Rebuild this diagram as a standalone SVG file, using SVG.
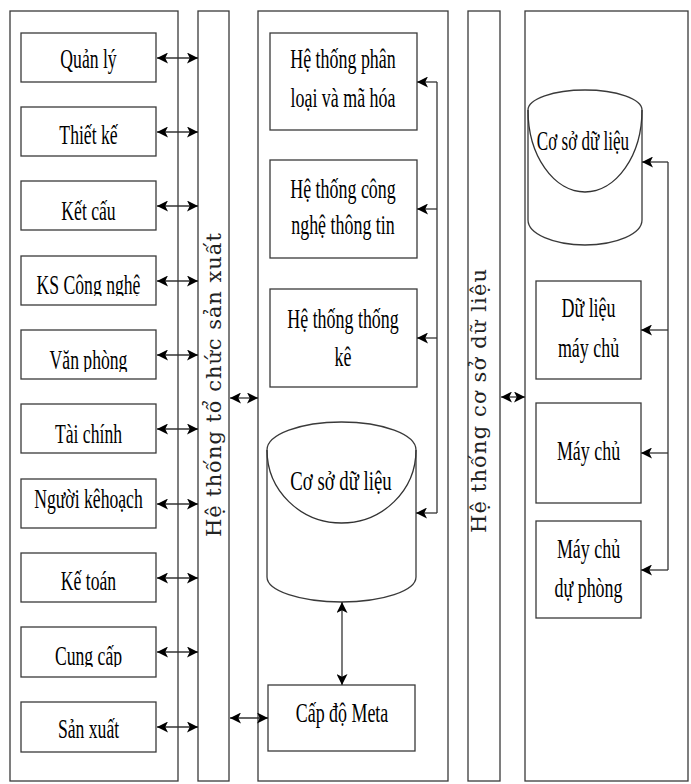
<svg xmlns="http://www.w3.org/2000/svg" width="691" height="784" viewBox="0 0 691 784">
<style>
.bx{fill:#fff;stroke:#3a3a3a;stroke-width:1.3}
.pn{fill:none;stroke:#3a3a3a;stroke-width:1.3}
.cn{fill:none;stroke:#333;stroke-width:1.3}
.t{font-family:"Liberation Serif","Times New Roman",serif;font-size:28px;fill:#000;text-anchor:middle}
.v{font-family:"DejaVu Serif",serif;font-size:21px;fill:#222}
</style>
<defs>
<marker id="ah" viewBox="0 0 10 10" refX="10" refY="5" markerWidth="11" markerHeight="11" markerUnits="userSpaceOnUse" orient="auto-start-reverse">
<path d="M0,0 L10,5 L0,10 L2.5,5 z" fill="#000"/>
</marker>
<clipPath id="c1"><rect x="21" y="256" width="135" height="40"/></clipPath>
<clipPath id="c2"><rect x="21" y="330" width="135" height="42"/></clipPath>
<clipPath id="c3"><rect x="21" y="627" width="135" height="40"/></clipPath>
</defs>
<rect width="691" height="784" fill="#fff"/>

<g id="panel-left"><rect class="pn" x="10" y="11" width="168" height="770"/></g>
<g id="bar-sx"><rect class="pn" x="198" y="11" width="31" height="770"/>
<text class="v" transform="translate(221,537) rotate(-90)" x="0" y="0" textLength="304" lengthAdjust="spacing">Hệ thống tổ chức sản xuất</text></g>
<g id="panel-mid"><rect class="pn" x="258" y="11" width="190" height="770"/></g>
<g id="bar-csdl"><rect class="pn" x="468" y="11" width="32" height="770"/>
<text class="v" transform="translate(486,533) rotate(-90)" x="0" y="0" textLength="264" lengthAdjust="spacing">Hệ thống cơ sở dữ liệu</text></g>
<g id="panel-right"><rect class="pn" x="525" y="11" width="163" height="770"/></g>

<g id="n-quanly"><rect class="bx" x="21" y="33" width="135" height="49"/><text class="t" transform="translate(88.5,68) scale(0.63,1)">Quản lý</text></g>
<g id="n-thietke"><rect class="bx" x="21" y="107" width="135" height="49"/><text class="t" transform="translate(88.5,144) scale(0.63,1)">Thiết kế</text></g>
<g id="n-ketcau"><rect class="bx" x="21" y="181" width="135" height="49"/><text class="t" transform="translate(88.5,220) scale(0.63,1)">Kết cấu</text></g>
<g id="n-kscn"><rect class="bx" x="21" y="256" width="135" height="49"/><g clip-path="url(#c1)"><text class="t" transform="translate(88.5,294) scale(0.63,1)">KS Công nghệ</text></g></g>
<g id="n-vanphong"><rect class="bx" x="21" y="330" width="135" height="49"/><g clip-path="url(#c2)"><text class="t" transform="translate(88.5,369) scale(0.63,1)">Văn phòng</text></g></g>
<g id="n-taichinh"><rect class="bx" x="21" y="404" width="135" height="49"/><text class="t" transform="translate(88.5,443) scale(0.63,1)">Tài chính</text></g>
<g id="n-nguoikh"><rect class="bx" x="21" y="479" width="135" height="49"/><text class="t" transform="translate(88.5,508) scale(0.63,1)">Người kêhoạch</text></g>
<g id="n-ketoan"><rect class="bx" x="21" y="553" width="135" height="49"/><text class="t" transform="translate(88.5,590) scale(0.63,1)">Kế toán</text></g>
<g id="n-cungcap"><rect class="bx" x="21" y="627" width="135" height="50"/><g clip-path="url(#c3)"><text class="t" transform="translate(88.5,665) scale(0.63,1)">Cung cấp</text></g></g>
<g id="n-sanxuat"><rect class="bx" x="21" y="702" width="135" height="50"/><text class="t" transform="translate(88.5,738) scale(0.63,1)">Sản xuất</text></g>

<g id="n-phanloai"><rect class="bx" x="270" y="33" width="147" height="97"/>
<text class="t" transform="translate(343,68) scale(0.64,1)">Hệ thống phân</text>
<text class="t" transform="translate(343,107) scale(0.64,1)">loại và mã hóa</text></g>
<g id="n-cntt"><rect class="bx" x="270" y="160" width="147" height="98"/>
<text class="t" transform="translate(343,198) scale(0.64,1)">Hệ thống công</text>
<text class="t" transform="translate(343,234) scale(0.64,1)">nghệ thông tin</text></g>
<g id="n-thongke"><rect class="bx" x="270" y="289" width="147" height="98"/>
<text class="t" transform="translate(343,328) scale(0.64,1)">Hệ thống thống</text>
<text class="t" transform="translate(343,366) scale(0.64,1)">kê</text></g>
<g id="n-csdl-mid">
<path class="bx" d="M267,450 A74.5,28 0 0 1 416,450 L416,577 A74.5,25 0 0 1 267,577 Z"/>
<path class="cn" d="M267,450 A74.5,73 0 0 0 416,450"/>
<text class="t" transform="translate(341,490) scale(0.67,1)">Cơ sở dữ liệu</text></g>
<g id="n-meta"><rect class="bx" x="268" y="685" width="147" height="66"/>
<text class="t" transform="translate(342,722) scale(0.64,1)">Cấp độ Meta</text></g>

<g id="n-csdl-right">
<path class="bx" d="M528,110 A57,20 0 0 1 642,110 L642,220 A57,25 0 0 1 528,220 Z"/>
<path class="cn" d="M528,110 A57,82 0 0 0 642,110"/>
<text class="t" transform="translate(583,150) scale(0.61,1)">Cơ sở dữ liệu</text></g>
<g id="n-dlmc"><rect class="bx" x="536" y="281" width="105" height="98"/>
<text class="t" transform="translate(588.5,317) scale(0.64,1)">Dữ liệu</text>
<text class="t" transform="translate(588.5,357) scale(0.64,1)">máy chủ</text></g>
<g id="n-maychu"><rect class="bx" x="536" y="403" width="105" height="100"/>
<text class="t" transform="translate(588.5,460) scale(0.64,1)">Máy chủ</text></g>
<g id="n-mcdp"><rect class="bx" x="536" y="521" width="105" height="97"/>
<text class="t" transform="translate(588.5,558) scale(0.64,1)">Máy chủ</text>
<text class="t" transform="translate(588.5,597) scale(0.64,1)">dự phòng</text></g>

<g id="connectors">
<line class="cn" x1="157" y1="58" x2="198" y2="58" marker-start="url(#ah)" marker-end="url(#ah)"/>
<line class="cn" x1="157" y1="132" x2="198" y2="132" marker-start="url(#ah)" marker-end="url(#ah)"/>
<line class="cn" x1="157" y1="206" x2="198" y2="206" marker-start="url(#ah)" marker-end="url(#ah)"/>
<line class="cn" x1="157" y1="281" x2="198" y2="281" marker-start="url(#ah)" marker-end="url(#ah)"/>
<line class="cn" x1="157" y1="355" x2="198" y2="355" marker-start="url(#ah)" marker-end="url(#ah)"/>
<line class="cn" x1="157" y1="429" x2="198" y2="429" marker-start="url(#ah)" marker-end="url(#ah)"/>
<line class="cn" x1="157" y1="504" x2="198" y2="504" marker-start="url(#ah)" marker-end="url(#ah)"/>
<line class="cn" x1="157" y1="578" x2="198" y2="578" marker-start="url(#ah)" marker-end="url(#ah)"/>
<line class="cn" x1="157" y1="652" x2="198" y2="652" marker-start="url(#ah)" marker-end="url(#ah)"/>
<line class="cn" x1="157" y1="727" x2="198" y2="727" marker-start="url(#ah)" marker-end="url(#ah)"/>
<line class="cn" x1="230" y1="398" x2="258" y2="398" marker-start="url(#ah)" marker-end="url(#ah)"/>
<line class="cn" x1="230" y1="718" x2="268" y2="718" marker-start="url(#ah)" marker-end="url(#ah)"/>
<line class="cn" x1="342" y1="602" x2="342" y2="685" marker-start="url(#ah)" marker-end="url(#ah)"/>
<polyline class="cn" points="437,82 437,513"/>
<line class="cn" x1="437" y1="82" x2="417" y2="82" marker-end="url(#ah)"/>
<line class="cn" x1="437" y1="209" x2="417" y2="209" marker-end="url(#ah)"/>
<line class="cn" x1="437" y1="338" x2="417" y2="338" marker-end="url(#ah)"/>
<line class="cn" x1="437" y1="513" x2="416" y2="513" marker-end="url(#ah)"/>
<line class="cn" x1="501" y1="397" x2="525" y2="397" marker-start="url(#ah)" marker-end="url(#ah)"/>
<polyline class="cn" points="668,162 668,570"/>
<line class="cn" x1="668" y1="162" x2="642" y2="162" marker-end="url(#ah)"/>
<line class="cn" x1="668" y1="330" x2="641" y2="330" marker-end="url(#ah)"/>
<line class="cn" x1="668" y1="453" x2="641" y2="453" marker-end="url(#ah)"/>
<line class="cn" x1="668" y1="570" x2="641" y2="570" marker-end="url(#ah)"/>
</g>
</svg>
